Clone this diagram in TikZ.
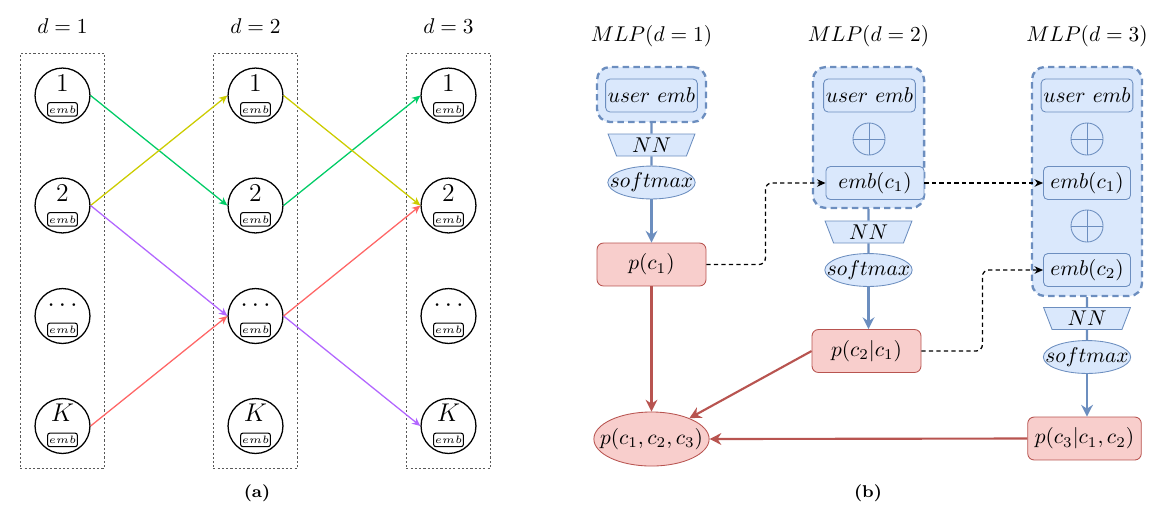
\documentclass[tikz,border=0pt]{standalone}
\usetikzlibrary{arrows.meta,shapes.geometric,fit}
\definecolor{bfill}{HTML}{DAE8FC}
\definecolor{bline}{HTML}{6C8EBF}
\definecolor{rfill}{HTML}{F8CECC}
\definecolor{rline}{HTML}{B85450}
\definecolor{cgreen}{HTML}{00CC66}
\definecolor{cyellow}{HTML}{CCCC00}
\definecolor{cpurple}{HTML}{B266FF}
\definecolor{cred}{HTML}{FF6666}
\begin{document}
\begin{tikzpicture}[x=0.468pt,y=-0.468pt]
\tikzset{vert/.style={draw, circle, line width=0.6pt, minimum size=25.7pt, inner sep=0pt, font=\large, text height=8pt, text depth=12pt}}
\tikzset{embtag/.style={draw, line width=0.5pt, rounded corners=1pt, font=\tiny, minimum width=13pt, minimum height=6.3pt, inner sep=0.6pt}}
\tikzset{colbox/.style={draw=black!65, dash pattern=on 1pt off 1pt, inner sep=6.6pt}}
\tikzset{arrA/.style={line width=0.6pt, -{Stealth[length=4pt,width=3.5pt]}}}
\tikzset{bbox/.style={draw=bline, fill=bfill, rounded corners=2pt, minimum width=40.7pt, minimum height=15.4pt, inner sep=1pt}}
\tikzset{cont/.style={draw=bline, fill=bfill, line width=1.1pt, dash pattern=on 3pt off 2pt, rounded corners=6pt, inner sep=0pt}}
\tikzset{nnbox/.style={trapezium, shape border rotate=180, trapezium left angle=72, trapezium right angle=72, trapezium stretches=true, draw=bline, fill=bfill, minimum width=40.7pt, minimum height=10.3pt, inner sep=0pt}}
\tikzset{smax/.style={ellipse, draw=bline, fill=bfill, minimum width=40.7pt, minimum height=15pt, inner xsep=-5pt, inner ysep=1pt}}
\tikzset{plus/.style={circle, draw=bline, minimum size=15pt, inner sep=0pt, path picture={\draw[bline] (path picture bounding box.north) -- (path picture bounding box.south) (path picture bounding box.west) -- (path picture bounding box.east);}}}
\tikzset{pbox/.style={draw=rline, fill=rfill, rounded corners=3pt, minimum width=51pt, minimum height=20.1pt}}
\tikzset{joint/.style={ellipse, draw=rline, fill=rfill, minimum width=53.8pt, minimum height=25.3pt, inner xsep=-5pt, inner ysep=3pt}}
\tikzset{bconn/.style={bline, line width=1pt}}
\tikzset{barr/.style={bline, line width=1pt, -{Stealth[length=5.5pt,width=5.5pt]}}}
\tikzset{rarr/.style={rline, line width=1pt, -{Stealth[length=5.5pt,width=5.5pt]}}}
\tikzset{dots/.style={line width=0.6pt, dash pattern=on 2pt off 1.5pt, rounded corners=3pt, -{Stealth[length=4pt,width=3.5pt]}}}
\useasboundingbox (0,0) rectangle (1176,516);

\node (LA) at (62.5,26) {$d=1$};
\node (LB) at (255.5,26) {$d=2$};
\node (LC) at (448.5,26) {$d=3$};

\node[vert] (A1) at (62.5,95.5) {$1$};
\node[vert] (A2) at (62.5,205.5) {$2$};
\node[vert] (A3) at (62.5,316) {$\cdots$};
\node[vert] (A4) at (62.5,426) {$K$};
\node[vert] (B1) at (255.5,95.5) {$1$};
\node[vert] (B2) at (255.5,205.5) {$2$};
\node[vert] (B3) at (255.5,316) {$\cdots$};
\node[vert] (B4) at (255.5,426) {$K$};
\node[vert] (C1) at (448.5,95.5) {$1$};
\node[vert] (C2) at (448.5,205.5) {$2$};
\node[vert] (C3) at (448.5,316) {$\cdots$};
\node[vert] (C4) at (448.5,426) {$K$};

\node[embtag] (A1e) at ([yshift=-6.5pt]A1.center) {$emb$};
\node[embtag] (A2e) at ([yshift=-6.5pt]A2.center) {$emb$};
\node[embtag] (A3e) at ([yshift=-6.5pt]A3.center) {$emb$};
\node[embtag] (A4e) at ([yshift=-6.5pt]A4.center) {$emb$};
\node[embtag] (B1e) at ([yshift=-6.5pt]B1.center) {$emb$};
\node[embtag] (B2e) at ([yshift=-6.5pt]B2.center) {$emb$};
\node[embtag] (B3e) at ([yshift=-6.5pt]B3.center) {$emb$};
\node[embtag] (B4e) at ([yshift=-6.5pt]B4.center) {$emb$};
\node[embtag] (C1e) at ([yshift=-6.5pt]C1.center) {$emb$};
\node[embtag] (C2e) at ([yshift=-6.5pt]C2.center) {$emb$};
\node[embtag] (C3e) at ([yshift=-6.5pt]C3.center) {$emb$};
\node[embtag] (C4e) at ([yshift=-6.5pt]C4.center) {$emb$};

\node[colbox, fit=(A1)(A4)] (FA) {};
\node[colbox, fit=(B1)(B4)] (FB) {};
\node[colbox, fit=(C1)(C4)] (FC) {};

\draw[arrA, cgreen] (A1.east) -- (B2.west);
\draw[arrA, cgreen] (B2.east) -- (C1.west);
\draw[arrA, cyellow] (A2.east) -- (B1.west);
\draw[arrA, cyellow] (B1.east) -- (C2.west);
\draw[arrA, cpurple] (A2.east) -- (B3.west);
\draw[arrA, cpurple] (B3.east) -- (C4.west);
\draw[arrA, cred] (A4.east) -- (B3.west);
\draw[arrA, cred] (B3.east) -- (C2.west);

\node[font=\footnotesize\bfseries] (CapA) at (257,493) {(a)};

\node (T1) at (651.5,36) {$MLP(d=1)$};
\node (T2) at (868.5,36) {$MLP(d=2)$};
\node (T3) at (1087,36) {$MLP(d=3)$};

\node[cont, minimum width=51pt, minimum height=25.7pt] (K1) at (651.5,94.5) {};
\node[cont, minimum width=52pt, minimum height=66pt] (K2) at (868.5,137.5) {};
\node[cont, minimum width=51.5pt, minimum height=107.2pt] (K3) at (1087,181.5) {};

\node[bbox] (U1) at (651.5,95.5) {$user\ emb$};
\node[bbox] (U2) at (869.5,95.5) {$user\ emb$};
\node[plus] (X2) at (869,139) {};
\node[bbox, minimum width=45.9pt] (E2) at (875,183) {$emb(c_1)$};
\node[bbox] (U3) at (1087,95.5) {$user\ emb$};
\node[plus] (X3a) at (1087,139) {};
\node[bbox] (E3a) at (1087,183) {$emb(c_1)$};
\node[plus] (X3b) at (1087,226) {};
\node[bbox] (E3b) at (1087,270) {$emb(c_2)$};

\node[nnbox] (N1) at (651.5,145) {$NN$};
\node[nnbox] (N2) at (868.5,232) {$NN$};
\node[nnbox] (N3) at (1087,318.5) {$NN$};
\node[smax] (S1) at (651.5,182.5) {$softmax$};
\node[smax] (S2) at (868.5,270) {$softmax$};
\node[smax] (S3) at (1087,357) {$softmax$};

\node[pbox] (P1) at (651.5,264.5) {$p(c_1)$};
\node[pbox] (P2) at (866.5,351) {$p(c_2|c_1)$};
\node[pbox] (P3) at (1084.5,438.5) {$p(c_3|c_1,c_2)$};
\node[joint] (J) at (651.5,439) {$p(c_1,c_2,c_3)$};

\draw[bconn] (K1.south) -- (N1.north) (N1.south) -- (S1.north);
\draw[bconn] (K2.south) -- (N2.north) (N2.south) -- (S2.north);
\draw[bconn] (K3.south) -- (N3.north) (N3.south) -- (S3.north);
\draw[barr] (S1.south) -- (S1.south |- P1.north);
\draw[barr] (S2.south) -- (S2.south |- P2.north);
\draw[barr] (S3.south) -- (S3.south |- P3.north);

\draw[rarr] (P1.south) -- (J.north);
\draw[rarr] (P2.west) -- (J);
\draw[rarr] (P3.west) -- (J.east);

\draw[dots] (P1.east) -- ++(59,0) |- (E2.west);
\draw[dots] (E2.east) -- (E3a.west);
\draw[dots] (P2.east) -- ++(61,0) |- (E3b.west);

\node[font=\footnotesize\bfseries] (CapB) at (868,493) {(b)};
\end{tikzpicture}
\end{document}
